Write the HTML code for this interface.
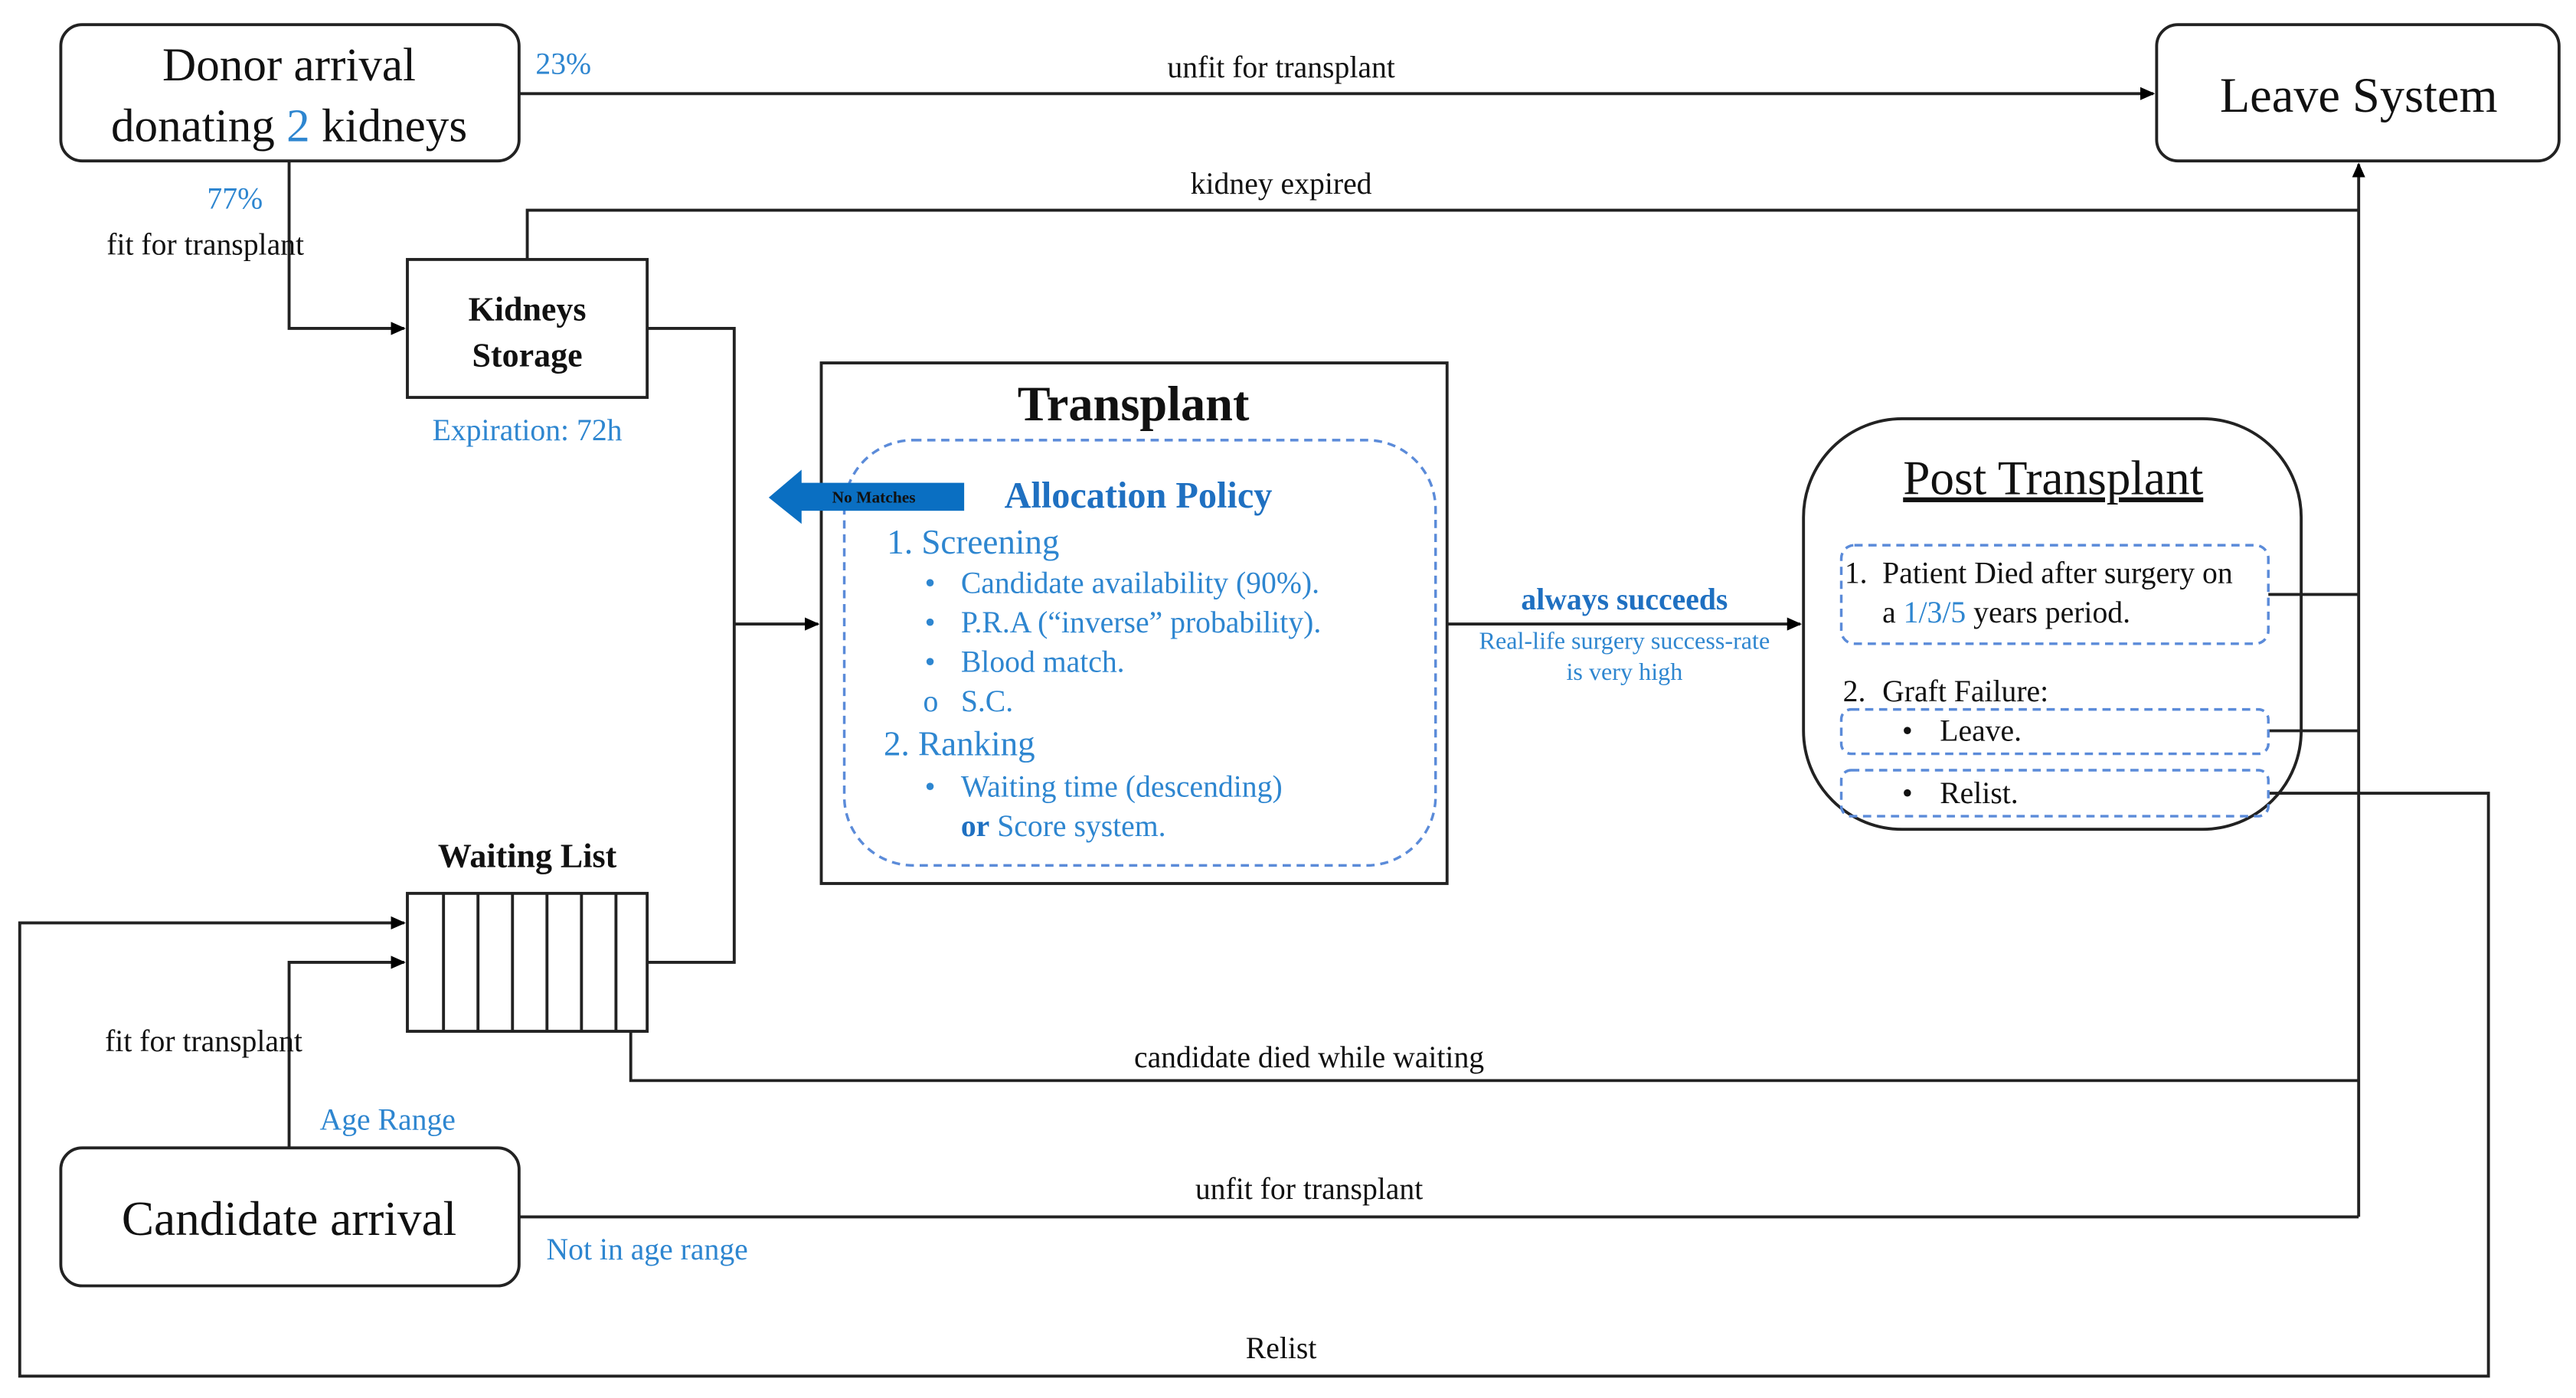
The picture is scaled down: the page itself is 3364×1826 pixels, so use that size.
<!DOCTYPE html>
<html><head><meta charset="utf-8"><style>
html,body{margin:0;padding:0;background:#fff;}
svg{display:block;}
text{font-family:"Liberation Serif",serif;}
</style></head><body>
<svg width="3364" height="1826" viewBox="0 0 1568.3 851.3" xmlns="http://www.w3.org/2000/svg">
<defs>
<marker id="a" markerWidth="10" markerHeight="10" refX="8" refY="5" orient="auto" markerUnits="userSpaceOnUse"><path d="M0,1 L9,5 L0,9 z" fill="#000"/></marker>
</defs>
<g fill="none" stroke="#222" stroke-width="1.8">
<rect x="37" y="15" width="279" height="83" rx="13"/>
<rect x="1313" y="15" width="245" height="83" rx="13"/>
<rect x="248" y="158" width="146" height="84"/>
<rect x="500" y="221" width="381" height="317"/>
<rect x="1098" y="255" width="303" height="250" rx="60"/>
<rect x="248" y="544" width="146" height="84"/>
<line x1="270" y1="544" x2="270" y2="628"/><line x1="291" y1="544" x2="291" y2="628"/>
<line x1="312" y1="544" x2="312" y2="628"/><line x1="333" y1="544" x2="333" y2="628"/>
<line x1="354" y1="544" x2="354" y2="628"/><line x1="375" y1="544" x2="375" y2="628"/>
<rect x="37" y="699" width="279" height="84" rx="13"/>
<line x1="316" y1="57" x2="1311" y2="57" marker-end="url(#a)"/>
<polyline points="176,98 176,200 246,200" marker-end="url(#a)"/>
<polyline points="321,158 321,128 1436,128"/>
<polyline points="1436,741 1436,100" marker-end="url(#a)"/>
<polyline points="394,200 447,200 447,586 394,586"/>
<line x1="447" y1="380" x2="498" y2="380" marker-end="url(#a)"/>
<line x1="881" y1="380" x2="1096" y2="380" marker-end="url(#a)"/>
<line x1="1381" y1="362" x2="1436" y2="362"/>
<line x1="1381" y1="445" x2="1436" y2="445"/>
<polyline points="1381,483 1515,483 1515,838 12,838 12,562 246,562" marker-end="url(#a)"/>
<polyline points="384,628 384,658 1436,658"/>
<polyline points="176,699 176,586 246,586" marker-end="url(#a)"/>
<line x1="316" y1="741" x2="1436" y2="741"/>
</g>
<g fill="none" stroke="#5b8bd9" stroke-width="1.6" stroke-dasharray="5,3.5">
<rect x="514" y="268" width="360" height="259" rx="42"/>
<rect x="1121" y="332" width="260" height="60" rx="8"/>
<rect x="1121" y="432" width="260" height="27" rx="6"/>
<rect x="1121" y="469" width="260" height="28" rx="6"/>
</g>
<path d="M468,303 L488,286 L488,294 L587,294 L587,311 L488,311 L488,319 Z" fill="#0a6fc2"/>
<text x="532" y="306" font-size="10" font-weight="bold" text-anchor="middle" fill="#111">No Matches</text>
<g fill="#111" text-anchor="middle">
<text x="176" y="49" font-size="28.5">Donor arrival</text>
<text x="176" y="86" font-size="28.5">donating <tspan fill="#2e86d0">2</tspan> kidneys</text>
<text x="1436" y="68" font-size="30">Leave System</text>
<text x="780" y="47" font-size="18.5">unfit for transplant</text>
<text x="780" y="118" font-size="18.5">kidney expired</text>
<text x="125" y="155" font-size="18.5">fit for transplant</text>
<text x="321" y="195" font-size="20.5" font-weight="bold">Kidneys</text>
<text x="321" y="223" font-size="20.5" font-weight="bold">Storage</text>
<text x="690" y="256" font-size="30" font-weight="bold">Transplant</text>
<text x="1250" y="301" font-size="29.5" text-decoration="underline">Post Transplant</text>
<text x="321" y="528" font-size="20.5" font-weight="bold">Waiting List</text>
<text x="124" y="640" font-size="18.5">fit for transplant</text>
<text x="797" y="650" font-size="18.5">candidate died while waiting</text>
<text x="176" y="752" font-size="29.5">Candidate arrival</text>
<text x="797" y="730" font-size="18.5">unfit for transplant</text>
<text x="780" y="827" font-size="18.5">Relist</text>
</g>
<g fill="#2e86d0" text-anchor="middle">
<text x="343" y="45" font-size="18.5">23%</text>
<text x="143" y="127" font-size="18.5">77%</text>
<text x="321" y="268" font-size="18.5">Expiration: 72h</text>
<text x="236" y="688" font-size="18.5">Age Range</text>
<text x="394" y="767" font-size="18.5">Not in age range</text>
<text x="989" y="371" font-size="18.5" font-weight="bold" fill="#1f70c1">always succeeds</text>
<text x="989" y="395" font-size="15">Real-life surgery success-rate</text>
<text x="989" y="414" font-size="15">is very high</text>
<text x="693" y="309" font-size="22.5" font-weight="bold" fill="#1f70c1">Allocation Policy</text>
</g>
<g fill="#2e86d0">
<text x="540" y="337" font-size="21">1. Screening</text>
<text x="563" y="361" font-size="18.5">•</text><text x="585" y="361" font-size="18.5">Candidate availability  (90%).</text>
<text x="563" y="385" font-size="18.5">•</text><text x="585" y="385" font-size="18.5">P.R.A (“inverse” probability).</text>
<text x="563" y="409" font-size="18.5">•</text><text x="585" y="409" font-size="18.5">Blood match.</text>
<text x="562" y="433" font-size="18.5">o</text><text x="585" y="433" font-size="18.5">S.C.</text>
<text x="538" y="460" font-size="21">2. Ranking</text>
<text x="563" y="485" font-size="18.5">•</text><text x="585" y="485" font-size="18.5">Waiting time (descending)</text>
<text x="585" y="509" font-size="18.5"><tspan font-weight="bold" fill="#1f70c1">or</tspan> Score system.</text>
</g>
<g fill="#111" font-size="18.5">
<text x="1123" y="355">1.</text>
<text x="1146" y="355">Patient Died after surgery on</text>
<text x="1146" y="379">a <tspan fill="#2e86d0">1/3/5</tspan> years period.</text>
<text x="1122" y="427">2.</text><text x="1146" y="427">Graft Failure:</text>
<text x="1158" y="451">•</text><text x="1181" y="451">Leave.</text>
<text x="1158" y="489">•</text><text x="1181" y="489">Relist.</text>
</g>
</svg>
</body></html>
